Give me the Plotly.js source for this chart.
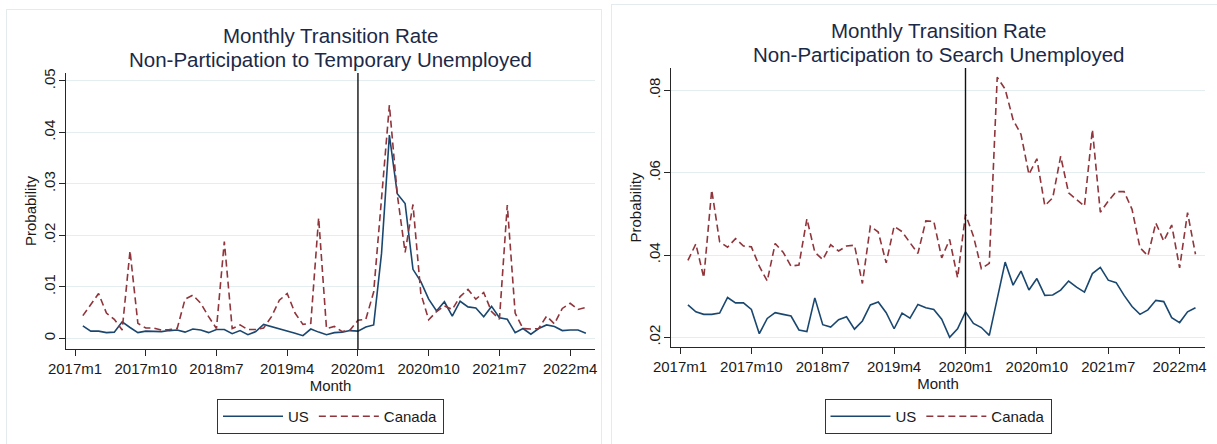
<!DOCTYPE html>
<html>
<head>
<meta charset="utf-8">
<script src="https://cdn.plot.ly/plotly-3.0.1.min.js"></script>
<style>
  html, body { margin: 0; padding: 0; background: #ffffff; width: 1217px; height: 444px; overflow: hidden; }
  #frameL { position: absolute; left: 6px; top: 9px; width: 596px; height: 440px; border: 1px solid #e3ebee; box-sizing: border-box; }
  #frameR { position: absolute; left: 611px; top: 4px; width: 610px; height: 445px; border: 1px solid #e3ebee; box-sizing: border-box; }
  #chartL { position: absolute; left: 0px; top: 0px; width: 608px; height: 444px; }
  #chartR { position: absolute; left: 608px; top: 0px; width: 609px; height: 444px; }
</style>
</head>
<body>
<div id="frameL"></div>
<div id="frameR"></div>
<div id="chartL"></div>
<div id="chartR"></div>
<script>
// ---- Data ----
const months = [
  "2017m2","2017m3","2017m4","2017m5","2017m6","2017m7","2017m8","2017m9","2017m10","2017m11","2017m12",
  "2018m1","2018m2","2018m3","2018m4","2018m5","2018m6","2018m7","2018m8","2018m9","2018m10","2018m11","2018m12",
  "2019m1","2019m2","2019m3","2019m4","2019m5","2019m6","2019m7","2019m8","2019m9","2019m10","2019m11","2019m12",
  "2020m1","2020m2","2020m3","2020m4","2020m5","2020m6","2020m7","2020m8","2020m9","2020m10","2020m11","2020m12",
  "2021m1","2021m2","2021m3","2021m4","2021m5","2021m6","2021m7","2021m8","2021m9","2021m10","2021m11","2021m12",
  "2022m1","2022m2","2022m3","2022m4","2022m5","2022m6"
];

// Non-Participation -> Temporary Unemployed
const tempUS = [
  0.0024,0.0014,0.0014,0.0011,0.0012,0.0032,0.0021,0.0011,0.0014,0.0014,0.0013,
  0.0015,0.0016,0.0012,0.0018,0.0016,0.0011,0.0017,0.0017,0.0009,0.0015,0.0007,0.0013,
  0.0027,0.0023,0.0019,0.0015,0.0010,0.0005,0.0018,0.0012,0.0007,0.0011,0.0012,0.0015,
  0.0014,0.0022,0.0026,0.0165,0.0395,0.0281,0.0262,0.0134,0.0110,0.0076,0.0053,0.0071,
  0.0043,0.0072,0.0061,0.0059,0.0042,0.0062,0.0040,0.0037,0.0011,0.0019,0.0008,0.0019,
  0.0026,0.0023,0.0015,0.0016,0.0016,0.0010
];
const tempCA = [
  0.0044,0.0065,0.0087,0.0049,0.0037,0.0016,0.0170,0.0029,0.0020,0.0020,0.0016,
  0.0017,0.0019,0.0076,0.0084,0.0068,0.0042,0.0019,0.0188,0.0019,0.0026,0.0017,0.0017,
  0.0020,0.0042,0.0074,0.0087,0.0049,0.0027,0.0029,0.0234,0.0019,0.0023,0.0013,0.0016,
  0.0035,0.0037,0.0090,0.0270,0.0453,0.0280,0.0167,0.0260,0.0087,0.0036,0.0052,0.0063,
  0.0056,0.0081,0.0095,0.0076,0.0089,0.0052,0.0037,0.0259,0.0049,0.0019,0.0018,0.0019,
  0.0043,0.0028,0.0058,0.0068,0.0056,0.0060
];

// Non-Participation -> Search Unemployed
const searchUS = [
  0.0279,0.0262,0.0256,0.0256,0.0259,0.0297,0.0284,0.0284,0.0268,0.0209,0.0246,
  0.0260,0.0256,0.0252,0.0218,0.0214,0.0296,0.0231,0.0225,0.0243,0.0250,0.0220,0.0240,
  0.0279,0.0286,0.0260,0.0221,0.0259,0.0247,0.0280,0.0272,0.0268,0.0244,0.0200,0.0221,
  0.0262,0.0234,0.0224,0.0205,0.0294,0.0383,0.0327,0.0361,0.0315,0.0343,0.0302,0.0303,
  0.0315,0.0337,0.0322,0.0310,0.0355,0.0370,0.0339,0.0333,0.0302,0.0275,0.0256,0.0267,
  0.0290,0.0287,0.0248,0.0236,0.0262,0.0272
];
const searchCA = [
  0.0387,0.0427,0.0345,0.0558,0.0432,0.0419,0.0440,0.0422,0.0420,0.0373,0.0337,
  0.0428,0.0407,0.0373,0.0376,0.0488,0.0407,0.0389,0.0425,0.0410,0.0422,0.0424,0.0331,
  0.0470,0.0456,0.0381,0.0470,0.0457,0.0430,0.0404,0.0483,0.0482,0.0393,0.0438,0.0345,
  0.0499,0.0446,0.0367,0.0380,0.0832,0.0803,0.0729,0.0693,0.0596,0.0634,0.0520,0.0539,
  0.0640,0.0551,0.0535,0.0519,0.0705,0.0504,0.0531,0.0554,0.0554,0.0511,0.0418,0.0398,
  0.0478,0.0434,0.0473,0.0369,0.0503,0.0402
];

const xTickLabels = ["2017m1","2017m10","2018m7","2019m4","2020m1","2020m10","2021m7","2022m4"];
const eventMonth = "2020m1";

const tempYTicks = [0, 0.01, 0.02, 0.03, 0.04, 0.05];
const tempYLabels = ["0", ".01", ".02", ".03", ".04", ".05"];
const searchYTicks = [0.02, 0.04, 0.06, 0.08];
const searchYLabels = [".02", ".04", ".06", ".08"];

// ---- Helpers ----
function monthIndex(s) {
  const p = s.split("m");
  return (parseInt(p[0], 10) - 2017) * 12 + (parseInt(p[1], 10) - 1);
}
const xs = months.map(monthIndex);
const xTickVals = xTickLabels.map(monthIndex);

const FONT = "Liberation Sans, Arial, Helvetica, sans-serif";
const NAVY = "#1a476f";
const MAROON = "#90353b";
const TITLE_COL = "#1b2947";
const GRID = "#e4edf0";
const AXIS = "#262626";

function makeChart(div, yUS, yCA, yTicks, yLabels, yRange, xRange, title1, title2, margin, t1y, t2y, legY) {
  const traces = [
    { x: xs, y: yUS, type: "scatter", mode: "lines", name: "US",
      line: { color: NAVY, width: 1.6 } },
    { x: xs, y: yCA, type: "scatter", mode: "lines", name: "Canada",
      line: { color: MAROON, width: 1.6, dash: "7px,4px" } }
  ];
  const layout = {
    width: div === "chartL" ? 608 : 609,
    height: 444,
    paper_bgcolor: "rgba(0,0,0,0)",
    plot_bgcolor: "rgba(0,0,0,0)",
    margin: margin,
    font: { family: FONT, size: 15, color: "#1a1a1a" },
    showlegend: true,
    legend: {
      orientation: "h", x: 0.5, xanchor: "center", xref: "paper",
      y: legY, yanchor: "top", yref: "container",
      bordercolor: "#333333", borderwidth: 1, bgcolor: "#ffffff",
      font: { family: FONT, size: 15, color: "#1a1a1a" },
      itemwidth: 60, tracegroupgap: 0
    },
    xaxis: {
      range: xRange, tickmode: "array", tickvals: xTickVals, ticktext: xTickLabels,
      showgrid: false, zeroline: false, showline: true, linecolor: AXIS, linewidth: 1,
      ticks: "outside", ticklen: 6, tickcolor: AXIS, tickfont: { family: FONT, size: 15, color: "#1a1a1a" },
      title: { text: "Month", font: { family: FONT, size: 15, color: "#1a1a1a" }, standoff: 0 }
    },
    yaxis: {
      range: yRange, tickmode: "array", tickvals: yTicks, ticktext: yLabels, tickangle: -90,
      ticklabelstandoff: -2,
      showgrid: true, gridcolor: GRID, gridwidth: 1, zeroline: false,
      showline: true, linecolor: AXIS, linewidth: 1,
      ticks: "outside", ticklen: 6, tickcolor: AXIS, tickfont: { family: FONT, size: 15, color: "#1a1a1a" },
      title: { text: "Probability", font: { family: FONT, size: 15, color: "#1a1a1a" }, standoff: 0 }
    },
    shapes: [
      { type: "line", xref: "x", yref: "paper", x0: monthIndex(eventMonth), x1: monthIndex(eventMonth),
        y0: 0, y1: 1, line: { color: "#111111", width: 1.4 } }
    ],
    annotations: [
      { text: title1, xref: "paper", yref: "paper", x: 0.5, y: t1y, xanchor: "center", yanchor: "middle",
        showarrow: false, font: { family: FONT, size: 20.5, color: TITLE_COL } },
      { text: title2, xref: "paper", yref: "paper", x: 0.5, y: t2y, xanchor: "center", yanchor: "middle",
        showarrow: false, font: { family: FONT, size: 20.5, color: TITLE_COL } }
    ]
  };
  Plotly.newPlot(div, traces, layout, { displayModeBar: false, staticPlot: true });
}

// left plot area: y 73..349 ; title line centres at ~35 and ~59 px
makeChart("chartL", tempUS, tempCA, tempYTicks, tempYLabels, [-0.00208, 0.05155], [-1.145, 66.16],
  "Monthly Transition Rate", "Non-Participation to Temporary Unemployed",
  { l: 66, r: 13, t: 73, b: 95 }, (349 - 35) / 276, (349 - 59) / 276, (444 - 399) / 444);

// right plot area: y 68..347 ; title line centres at ~31 and ~55 px
makeChart("chartR", searchUS, searchCA, searchYTicks, searchYLabels, [0.01767, 0.08544], [-1.135, 66.2],
  "Monthly Transition Rate", "Non-Participation to Search Unemployed",
  { l: 63, r: 12, t: 68, b: 97 }, (347 - 31) / 279, (347 - 55) / 279, (444 - 399) / 444);
</script>
</body>
</html>
